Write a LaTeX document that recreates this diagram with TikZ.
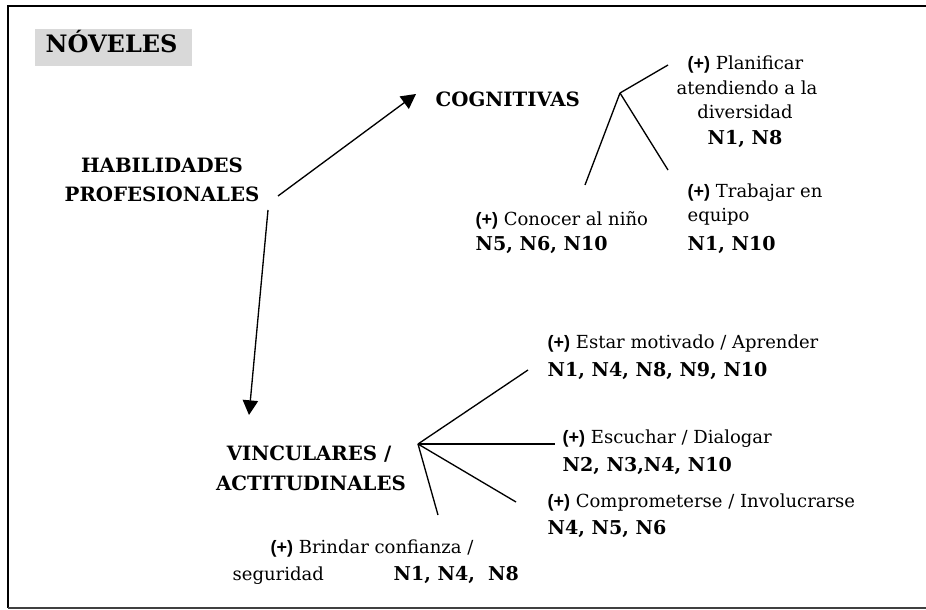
\documentclass[tikz,border=0pt]{standalone}
\usepackage{fontspec}
\setmainfont{DejaVu Serif}
\newfontfamily\plusfont{Liberation Sans}
\usetikzlibrary{arrows.meta}
\newcommand\plusmark{{\plusfont\bfseries(+)}}
\begin{document}
\begin{tikzpicture}[x=0.75pt,y=-0.75pt,line width=1pt,
  txt/.style={anchor=base west,inner sep=0pt,font=\fontsize{13.5}{16}\selectfont},
  txtc/.style={anchor=base,inner sep=0pt,font=\fontsize{13.5}{16}\selectfont},
  nums/.style={anchor=base west,inner sep=0pt,font=\fontsize{14.3}{17}\selectfont\bfseries},
  numsc/.style={anchor=base,inner sep=0pt,font=\fontsize{14.3}{17}\selectfont\bfseries},
  head/.style={anchor=base,inner sep=0pt,font=\fontsize{14.8}{18}\selectfont\bfseries},
  arr/.style={-{Triangle[length=11pt,width=11.5pt]}},
  branch/.style={line width=1pt}]
\useasboundingbox (0,0) rectangle (926,610);
% frame
\draw[line width=1.3pt] (930,6) -- (8,6) -- (8,608);
\draw[line width=1.1pt,black!75] (8,608) -- (930,608);
% title
\fill[black!15] (35,29) rectangle (192,66);
\node[anchor=base west,inner sep=0pt,font=\fontsize{18}{20}\selectfont\bfseries] (nov) at (45,53) {NÓVELES};
% main
\node[head] (hab1) at (162,173) {HABILIDADES};
\node[head] (hab2) at (162,202) {PROFESIONALES};
\node[head,anchor=base west] (cog) at (435,107) {COGNITIVAS};
\node[head] (vin1) at (309,460) {VINCULARES /};
\node[head] (vin2) at (311,490) {ACTITUDINALES};
% arrows
\coordinate (a1s) at (278,196);
\coordinate (a1e) at (416,94);
\coordinate (a2s) at (268,210);
\coordinate (a2e) at (249,415);
\draw[arr] (a1s) -- (a1e);
\draw[arr] (a2s) -- (a2e);
% cognitivas branches
\coordinate (cg) at (620,93);
\coordinate (cg1) at (668,65);
\coordinate (cg2) at (668,170);
\coordinate (cg3) at (585,185);
\draw[branch] (cg) -- (cg1);
\draw[branch] (cg) -- (cg2);
\draw[branch] (cg) -- (cg3);
\node[txt] (p1) at (687,70) {\plusmark{} Planificar};
\node[txt] (p2) at (676,95) {atendiendo a la};
\node[txtc] (p3) at (745,119) {diversidad};
\node[numsc] (p4) at (745,145) {N1, N8};
\node[txt] (t1) at (687,197) {\plusmark{} Trabajar en};
\node[txt] (t2) at (687,222) {equipo};
\node[nums] (t3) at (687,250) {N1, N10};
\node[txt] (c1) at (475,225) {\plusmark{} Conocer al niño};
\node[nums] (c2) at (475,250) {N5, N6, N10};
% vinculares branches
\coordinate (vg) at (418,444);
\coordinate (vg1) at (528,370);
\coordinate (vg2) at (555,444);
\coordinate (vg3) at (516,502);
\coordinate (vg4) at (438,515);
\draw[branch] (vg) -- (vg1);
\draw[branch] (vg) -- (vg2);
\draw[branch] (vg) -- (vg3);
\draw[branch] (vg) -- (vg4);
\node[txt] (e1) at (547,348) {\plusmark{} Estar motivado / Aprender};
\node[nums] (e2) at (547,376) {N1, N4, N8, N9, N10};
\node[txt] (d1) at (562,443) {\plusmark{} Escuchar / Dialogar};
\node[nums] (d2) at (562,471) {N2, N3,N4, N10};
\node[txt] (m1) at (547,507) {\plusmark{} Comprometerse / Involucrarse};
\node[nums] (m2) at (547,534) {N4, N5, N6};
\node[txt] (b1) at (270,553) {\plusmark{} Brindar confianza /};
\node[txt] (b2) at (232,580) {seguridad};
\node[nums] (b3) at (393,580) {N1, N4,\ \ N8};
\end{tikzpicture}
\end{document}
